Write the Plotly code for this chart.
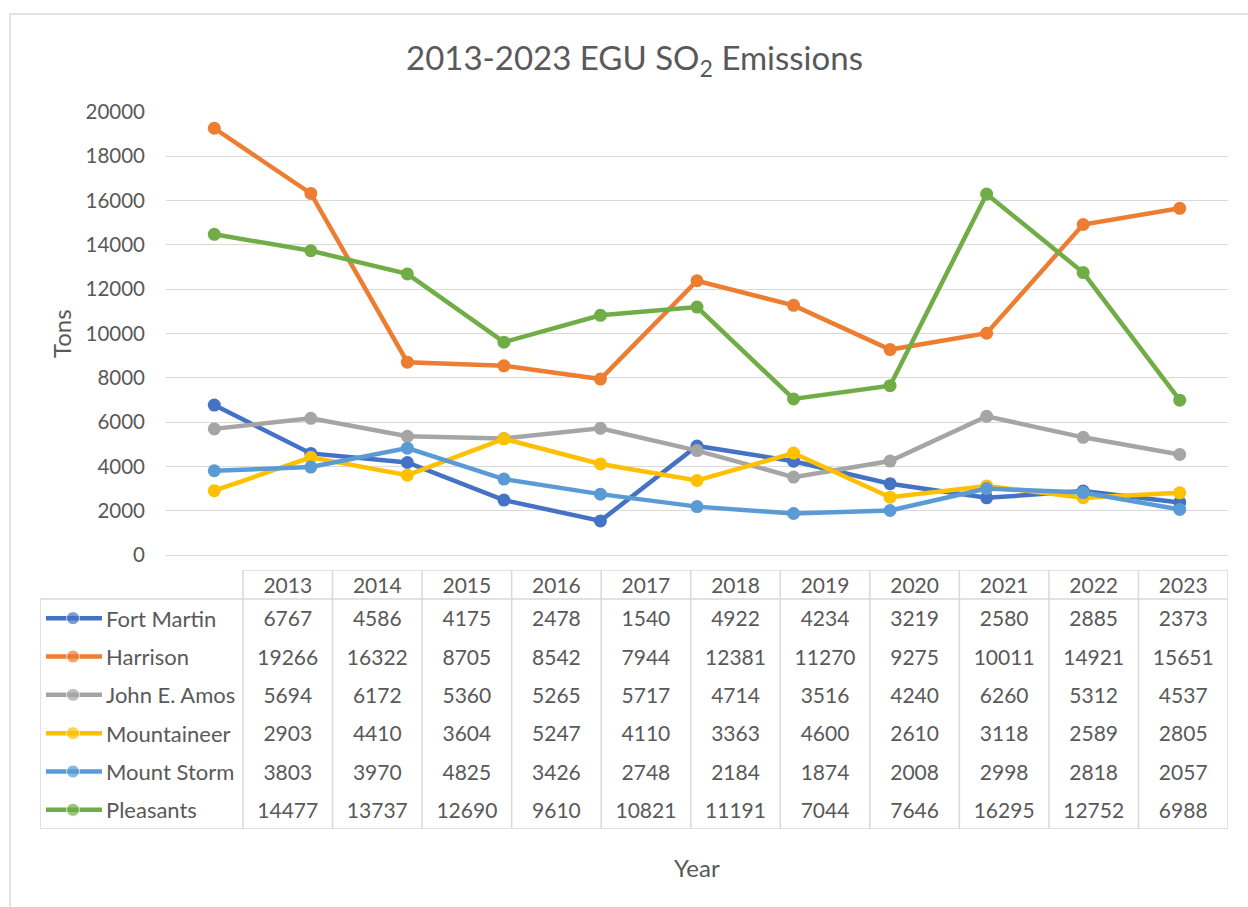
import plotly.graph_objects as go

# ---------------- data ----------------
years = ["2013", "2014", "2015", "2016", "2017", "2018", "2019", "2020", "2021", "2022", "2023"]
series_names = ["Fort Martin", "Harrison", "John E. Amos", "Mountaineer", "Mount Storm", "Pleasants"]
fort_martin = [6767, 4586, 4175, 2478, 1540, 4922, 4234, 3219, 2580, 2885, 2373]
harrison = [19266, 16322, 8705, 8542, 7944, 12381, 11270, 9275, 10011, 14921, 15651]
john_e_amos = [5694, 6172, 5360, 5265, 5717, 4714, 3516, 4240, 6260, 5312, 4537]
mountaineer = [2903, 4410, 3604, 5247, 4110, 3363, 4600, 2610, 3118, 2589, 2805]
mount_storm = [3803, 3970, 4825, 3426, 2748, 2184, 1874, 2008, 2998, 2818, 2057]
pleasants = [14477, 13737, 12690, 9610, 10821, 11191, 7044, 7646, 16295, 12752, 6988]
y_ticks = [0, 2000, 4000, 6000, 8000, 10000, 12000, 14000, 16000, 18000, 20000]

series_values = [fort_martin, harrison, john_e_amos, mountaineer, mount_storm, pleasants]
colors = ["#4472C4", "#ED7D31", "#A5A5A5", "#FFC000", "#5B9BD5", "#70AD47"]

# ---------------- layout geometry ----------------
W, H = 1248, 907
FONT = "Lato"
TXT = "#595959"
GRID = "#d9d9d9"


def px_x(p):
    return p / W


def px_y(p):
    return 1 - p / H


# table geometry (in table-axis units)
tbl_left_px, tbl_col0_px, tbl_right_px = 40, 243, 1228
col_w = (tbl_right_px - tbl_col0_px) / len(years)
x_min = -0.5 - (tbl_col0_px - tbl_left_px) / col_w
hdr_top_px, body_top_px, body_bot_px = 570, 599, 829
row_h = (body_bot_px - body_top_px) / len(series_names)
hdr_h = (body_top_px - hdr_top_px) / row_h
y_top = -0.5 - hdr_h
n_rows = len(series_names)
n_cols = len(years)
text_dy = 3 / row_h  # small baseline nudge for text traces


def tx(p):  # pixel -> table x units
    return -0.5 - (tbl_col0_px - p) / col_w


fig = go.Figure()

# main line chart
for name, vals, color in zip(series_names, series_values, colors):
    fig.add_trace(go.Scatter(
        x=years, y=vals, name=name, mode="lines+markers",
        line=dict(color=color, width=4.5),
        marker=dict(size=13, color=color),
        xaxis="x", yaxis="y", showlegend=False,
    ))

# data table: values
for j, (name, vals, color) in enumerate(zip(series_names, series_values, colors)):
    fig.add_trace(go.Scatter(
        x=list(range(n_cols)), y=[j + text_dy] * n_cols, text=[str(v) for v in vals],
        mode="text", textposition="middle center",
        textfont=dict(family=FONT, size=21, color=TXT),
        xaxis="x2", yaxis="y2", showlegend=False, cliponaxis=False, hoverinfo="skip",
    ))
    # legend key
    fig.add_trace(go.Scatter(
        x=[tx(46), tx(73), tx(102)], y=[j, j, j], mode="lines+markers",
        line=dict(color=color, width=4.5),
        marker=dict(size=[0, 13, 0], color=color),
        xaxis="x2", yaxis="y2", showlegend=False, cliponaxis=False, hoverinfo="skip",
    ))
    fig.add_annotation(
        x=tx(104), y=j, xref="x2", yref="y2", text=name, showarrow=False,
        xanchor="left", yanchor="middle", font=dict(family=FONT, size=22, color=TXT),
    )

# header row
fig.add_trace(go.Scatter(
    x=list(range(n_cols)), y=[-0.5 - hdr_h / 2 + text_dy] * n_cols, text=years,
    mode="text", textposition="middle center",
    textfont=dict(family=FONT, size=21, color=TXT),
    xaxis="x2", yaxis="y2", showlegend=False, cliponaxis=False, hoverinfo="skip",
))

shapes = []
line_style = dict(color=GRID, width=1.5)
# vertical cell borders
for k in range(n_cols + 1):
    shapes.append(dict(type="line", xref="x2", yref="y2", x0=k - 0.5, x1=k - 0.5,
                       y0=y_top, y1=n_rows - 0.5, line=line_style))
shapes.append(dict(type="line", xref="x2", yref="y2", x0=x_min, x1=x_min,
                   y0=-0.5, y1=n_rows - 0.5, line=line_style))
# horizontal cell borders
shapes.append(dict(type="line", xref="x2", yref="y2", x0=-0.5, x1=n_cols - 0.5,
                   y0=y_top, y1=y_top, line=line_style))
shapes.append(dict(type="line", xref="x2", yref="y2", x0=x_min, x1=n_cols - 0.5,
                   y0=-0.5, y1=-0.5, line=line_style))
shapes.append(dict(type="line", xref="x2", yref="y2", x0=x_min, x1=n_cols - 0.5,
                   y0=n_rows - 0.5, y1=n_rows - 0.5, line=line_style))
# chart border
shapes.append(dict(type="rect", xref="paper", yref="paper", x0=px_x(10), x1=1.05,
                   y0=-0.05, y1=px_y(14), line=dict(color=GRID, width=1.5),
                   layer="below"))

fig.update_layout(
    width=W, height=H, autosize=False,
    margin=dict(l=0, r=0, t=0, b=0, pad=0, autoexpand=False),
    paper_bgcolor="white", plot_bgcolor="white",
    font=dict(family=FONT, color=TXT),
    shapes=shapes,
    xaxis=dict(type="category", domain=[px_x(166), px_x(1228)], range=[-0.5, len(years) - 0.5],
               showticklabels=False, showgrid=False, zeroline=False, showline=False,
               categoryorder="array", categoryarray=years, automargin=False),
    yaxis=dict(range=[0, 20000], tickvals=y_ticks, tickformat="d", domain=[px_y(555), px_y(112)],
               showgrid=True, gridcolor=GRID, gridwidth=1.2,
               zeroline=True, zerolinecolor=GRID, zerolinewidth=1.2, showline=False,
               tickfont=dict(family=FONT, size=20.5, color=TXT), ticklabelstandoff=20,
               automargin=False),
    xaxis2=dict(range=[x_min, n_cols - 0.5], domain=[px_x(tbl_left_px), px_x(tbl_right_px)],
                visible=False, anchor="y2", automargin=False),
    yaxis2=dict(range=[n_rows - 0.5, y_top], domain=[px_y(body_bot_px), px_y(hdr_top_px)],
                visible=False, anchor="x2", automargin=False),
    showlegend=False,
)

fig.add_annotation(text="2013-2023 EGU SO<sub>2</sub> Emissions", xref="paper", yref="paper",
                   x=px_x(634), y=px_y(60), xanchor="center", yanchor="middle", showarrow=False,
                   font=dict(family=FONT, size=33, color=TXT))
fig.add_annotation(text="Tons", xref="paper", yref="paper", x=px_x(62), y=px_y(333),
                   xanchor="center", yanchor="middle", textangle=-90, showarrow=False,
                   font=dict(family=FONT, size=24, color=TXT))
fig.add_annotation(text="Year", xref="paper", yref="paper", x=px_x(697), y=px_y(867),
                   xanchor="center", yanchor="middle", showarrow=False,
                   font=dict(family=FONT, size=24, color=TXT))

fig.write_html(
    "out.html",
    config={"displayModeBar": False},
    post_script="document.body.style.margin='0';document.body.style.overflow='hidden';",
)
